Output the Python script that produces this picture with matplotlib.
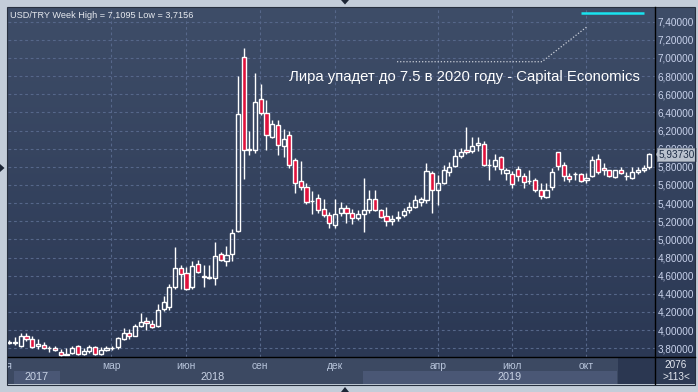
import numpy as np
import matplotlib
matplotlib.use('Agg')
import matplotlib.pyplot as plt
import matplotlib.transforms as mtrans
from matplotlib.lines import Line2D
from matplotlib.patches import Rectangle, Polygon

plt.rcParams['font.family'] = ['Liberation Sans', 'DejaVu Sans']

# weekly USD/TRY candles, late Oct 2017 .. mid Dec 2019
opens = [3.87, 3.86, 3.83, 3.94, 3.90, 3.83, 3.84, 3.799, 3.80, 3.76,
         3.73, 3.75, 3.82, 3.74, 3.77, 3.81, 3.74, 3.78, 3.799, 3.81,
         3.90, 3.97, 3.94, 4.04, 4.10, 4.07, 4.04, 4.23, 4.26, 4.47,
         4.69, 4.63, 4.47, 4.73, 4.60, 4.57, 4.57, 4.84, 4.76, 4.84,
         5.09, 7.01, 5.99, 5.99, 6.55, 6.39, 6.13, 6.26, 6.03, 6.15,
         5.88, 5.64, 5.58, 5.42, 5.46, 5.33, 5.27, 5.16, 5.29, 5.35,
         5.29, 5.24, 5.28, 5.32, 5.45, 5.32, 5.26, 5.20, 5.24, 5.27,
         5.32, 5.36, 5.41, 5.43, 5.73, 5.54, 5.62, 5.74, 5.81, 5.92,
         5.99, 5.97, 6.04, 6.05, 5.82, 5.81, 5.91, 5.73, 5.72, 5.78,
         5.70, 5.64, 5.65, 5.54, 5.47, 5.58, 5.96, 5.82, 5.70, 5.72,
         5.72, 5.66, 5.70, 5.89, 5.79, 5.76, 5.69, 5.76, 5.70, 5.68,
         5.74, 5.76, 5.80]
highs = [3.89, 3.92, 3.97, 3.97, 3.94, 3.90, 3.87, 3.82, 3.82, 3.79,
         3.80, 3.83, 3.84, 3.80, 3.84, 3.83, 3.81, 3.82, 3.83, 3.92,
         4.02, 4.01, 4.07, 4.19, 4.14, 4.11, 4.29, 4.38, 4.51, 4.92,
         4.72, 4.70, 4.76, 4.77, 4.72, 4.72, 4.97, 4.86, 4.93, 5.11,
         6.80, 7.1095, 6.20, 6.83, 6.71, 6.54, 6.32, 6.32, 6.22, 6.19,
         5.90, 5.86, 5.62, 5.53, 5.50, 5.44, 5.30, 5.45, 5.41, 5.38,
         5.33, 5.32, 5.68, 5.54, 5.54, 5.34, 5.36, 5.27, 5.31, 5.35,
         5.41, 5.49, 5.47, 5.84, 5.75, 5.71, 5.82, 5.85, 6.00, 6.01,
         6.24, 6.13, 6.13, 6.09, 5.89, 5.94, 5.92, 5.79, 5.75, 5.81,
         5.73, 5.77, 5.68, 5.62, 5.62, 5.79, 5.96, 5.85, 5.73, 5.74,
         5.73, 5.73, 5.92, 5.94, 5.84, 5.77, 5.77, 5.80, 5.74, 5.80,
         5.80, 5.82, 5.95]
lows = [3.85, 3.84, 3.81, 3.88, 3.80, 3.79, 3.79, 3.76, 3.765, 3.7156,
        3.72, 3.74, 3.72, 3.72, 3.75, 3.73, 3.73, 3.77, 3.78, 3.79,
        3.89, 3.90, 3.93, 4.03, 4.00, 4.02, 4.03, 4.21, 4.22, 4.45,
        4.45, 4.44, 4.45, 4.63, 4.48, 4.56, 4.50, 4.76, 4.71, 4.76,
        5.08, 5.67, 5.93, 5.95, 6.37, 5.99, 6.12, 5.93, 5.91, 5.79,
        5.51, 5.55, 5.39, 5.28, 5.29, 5.25, 5.13, 5.13, 5.26, 5.18,
        5.17, 5.21, 5.08, 5.29, 5.31, 5.24, 5.15, 5.16, 5.20, 5.25,
        5.29, 5.35, 5.37, 5.40, 5.29, 5.38, 5.61, 5.70, 5.80, 5.90,
        5.94, 5.95, 5.98, 5.81, 5.65, 5.76, 5.72, 5.66, 5.57, 5.64,
        5.57, 5.61, 5.52, 5.45, 5.46, 5.55, 5.77, 5.64, 5.63, 5.66,
        5.63, 5.62, 5.69, 5.72, 5.71, 5.69, 5.68, 5.72, 5.66, 5.67,
        5.72, 5.74, 5.78]
closes = [3.86, 3.87, 3.94, 3.90, 3.81, 3.85, 3.80, 3.801, 3.78, 3.72,
          3.74, 3.80, 3.74, 3.77, 3.81, 3.74, 3.78, 3.80, 3.801, 3.91,
          3.97, 3.94, 4.04, 4.09, 4.08, 4.03, 4.22, 4.31, 4.47, 4.69,
          4.62, 4.45, 4.71, 4.64, 4.58, 4.58, 4.82, 4.77, 4.83, 5.07,
          6.38, 5.99, 6.00, 6.52, 6.39, 6.15, 6.27, 6.04, 6.11, 5.82,
          5.62, 5.58, 5.41, 5.421, 5.32, 5.27, 5.18, 5.28, 5.35, 5.29,
          5.24, 5.28, 5.32, 5.45, 5.32, 5.25, 5.20, 5.22, 5.241, 5.31,
          5.36, 5.43, 5.44, 5.75, 5.54, 5.62, 5.76, 5.80, 5.92, 5.96,
          5.96, 6.03, 6.06, 5.82, 5.821, 5.88, 5.78, 5.77, 5.61, 5.70,
          5.63, 5.641, 5.54, 5.48, 5.55, 5.74, 5.81, 5.70, 5.67, 5.721,
          5.64, 5.68, 5.87, 5.74, 5.76, 5.70, 5.76, 5.73, 5.701, 5.74,
          5.77, 5.79, 5.9373]

price_ticks = np.round(np.arange(3.8, 7.41, 0.2), 2)
month_labels = ['ноя', 'мар', 'июн', 'сен', 'дек', 'апр', 'июл', 'окт']
month_pos = [-0.9, 17.8, 30.9, 43.9, 57.0, 75.0, 88.0, 100.9]
year_labels = ['2017', '2018', '2019']
year_pos = [4.85, 35.5, 87.6]
year_boxes = [(0.8, 8.9), (61.9, 106.4)]
last_price = 5.9373

W, H = 698, 392
def fx(px):
    return px / W
def fy(py):
    return 1 - py / H

fig = plt.figure(figsize=(W / 100, H / 100), dpi=100)
fig.patch.set_facecolor('#c3cdd9')

# gradient background of the plot panel (plot + right price column)
bg = fig.add_axes([fx(8), fy(357.3), fx(695) - fx(8), fy(7.3) - fy(357.3)])
grad = np.linspace(0, 1, 256).reshape(-1, 1)
top_c = np.array([62, 77, 104]) / 255
bot_c = np.array([43, 56, 84]) / 255
img = top_c[None, None, :] * (1 - grad[:, :, None]) + bot_c[None, None, :] * grad[:, :, None]
bg.imshow(img, aspect='auto', extent=[0, 1, 0, 1])
bg.set_axis_off()

ax = fig.add_axes([fx(8), fy(357.3), fx(655.3) - fx(8), fy(7.3) - fy(357.3)])
ax.set_facecolor('none')
ax.set_xlim(-0.23, 113.05)
ax.set_ylim(3.700, 7.559)

x = np.arange(len(opens))
red = '#e0123c'
for i in x:
    o, h, l, c = opens[i], highs[i], lows[i], closes[i]
    top, bot = max(o, c), min(o, c)
    ax.vlines(i, top, h, color='white', lw=1.0, zorder=3)
    ax.vlines(i, l, bot, color='white', lw=1.0, zorder=3)
    ax.bar(i, max(top - bot, 0.004), bottom=bot, width=0.72,
           facecolor=red if c < o else 'none', edgecolor='white', lw=1.0, zorder=4)

# grid
for p in price_ticks:
    ax.axhline(p, color='#56678a', lw=0.8, ls=(0, (2.5, 2.5)), zorder=1)
for m in month_pos[1:]:
    ax.axvline(m, color='#56678a', lw=0.8, ls=(0, (2.5, 2.5)), zorder=1)

ax.set_xticks([])
ax.yaxis.tick_right()
ax.set_yticks(price_ticks)
ax.set_yticklabels([f'{v:.5f}'.replace('.', ',') for v in price_ticks])
ax.tick_params(axis='y', length=0, pad=1.5, labelsize=7.2, labelcolor='#c9d3ec')
for s in ax.spines.values():
    s.set_visible(False)

# last price tag
tr = mtrans.blended_transform_factory(ax.transAxes, ax.transData)
ax.text(1.0 + 3.2 / 647.3, last_price, '5,93730', transform=tr, fontsize=7.2,
        color='#1d2c45', va='center', ha='left', zorder=6, clip_on=False,
        bbox=dict(boxstyle='square,pad=0.12', fc='#b9c1cd', ec='#8c95a3', lw=0.6))
fig.add_artist(Polygon([[fx(655.5), fy(154.4)], [fx(659), fy(150.5)], [fx(659), fy(158.3)]],
                       closed=True, fc='#b9c1cd', ec='none', transform=fig.transFigure))

# bottom time axis
xa = fig.add_axes([fx(8), fy(384.3), fx(618) - fx(8), fy(357.3) - fy(384.3)])
xa.set_facecolor('#3c4962')
xa.set_xlim(-0.23, (618 - 9.3) / 5.714)
xa.set_ylim(27, 0)
xa.set_axis_off()
xa.add_patch(Rectangle((-1, 0), 200, 27, fc='#3c4962', ec='none', zorder=0))
for a, b in year_boxes:
    xa.add_patch(Rectangle((a, 13.7), b - a, 12.6, fc='#4a5775', ec='none', zorder=1))
for lab, pos in zip(month_labels, month_pos):
    xa.text(pos, 8.3, lab, ha='center', va='center', fontsize=7.4, color='#b7c4da', clip_on=True, zorder=2)
for lab, pos in zip(year_labels, year_pos):
    xa.text(pos, 20.0, lab, ha='center', va='center', fontsize=7.8, color='#c8d2e4', zorder=2)

# dark blocks bottom right
fig.add_artist(Rectangle((fx(618), fy(384.3)), fx(655.3) - fx(618), fy(357.3) - fy(384.3),
                         fc='#2b3751', ec='none', transform=fig.transFigure))
fig.add_artist(Rectangle((fx(655.3), fy(384.3)), fx(695) - fx(655.3), fy(357.3) - fy(384.3),
                         fc='#2d3a54', ec='none', transform=fig.transFigure))
fig.text(fx(676), fy(364.5), '2076', ha='center', va='center', fontsize=7.2, color='#e4e8f0')
fig.text(fx(676), fy(377), '>113<', ha='center', va='center', fontsize=7.2, color='#e4e8f0')

# frame lines
fig.add_artist(Line2D([fx(8), fx(695)], [fy(357.3), fy(357.3)], color='black', lw=1.0))
fig.add_artist(Line2D([fx(655.3), fx(655.3)], [fy(7.3), fy(384.3)], color='black', lw=1.0))
fig.add_artist(Rectangle((fx(7.5), fy(384.5)), fx(695) - fx(7.5), fy(7) - fy(384.5),
                         fc='none', ec='#27303f', lw=0.8, transform=fig.transFigure))

# scroll markers
mk = '#1c2535'
fig.add_artist(Polygon([[fx(341), fy(0)], [fx(349), fy(0)], [fx(345), fy(4.5)]], fc=mk, ec='none',
                       transform=fig.transFigure))
fig.add_artist(Polygon([[fx(341), fy(392)], [fx(349), fy(392)], [fx(345), fy(387)]], fc=mk, ec='none',
                       transform=fig.transFigure))
fig.add_artist(Polygon([[fx(0), fy(164)], [fx(0), fy(172)], [fx(4.5), fy(168)]], fc=mk, ec='none',
                       transform=fig.transFigure))

# header text and annotation, sized to the widths seen in the reference
head = fig.text(fx(10), fy(15), 'USD/TRY Week High = 7,1095 Low = 3,7156', fontsize=8,
                color='#e6e9ef', va='center', ha='left')
note = fig.text(fx(289), fy(77), 'Лира упадет до 7.5 в 2020 году - Capital Economics',
                fontsize=10, color='white', va='center', ha='left')
fig.canvas.draw()
head.set_fontsize(8 * 183 / head.get_window_extent().width)
note.set_fontsize(10 * 352 / note.get_window_extent().width)

fig.add_artist(Line2D([fx(397), fx(542), fx(587)], [fy(61.7), fy(61.7), fy(26.7)],
                      color='#c9ced8', lw=0.9, ls=(0, (1, 1.5))))
fig.add_artist(Line2D([fx(581), fx(644)], [fy(12.7), fy(12.7)], color='#19e3ef', lw=1.8,
                      solid_capstyle='butt'))

fig.savefig('out.png', dpi=100, facecolor=fig.get_facecolor())
